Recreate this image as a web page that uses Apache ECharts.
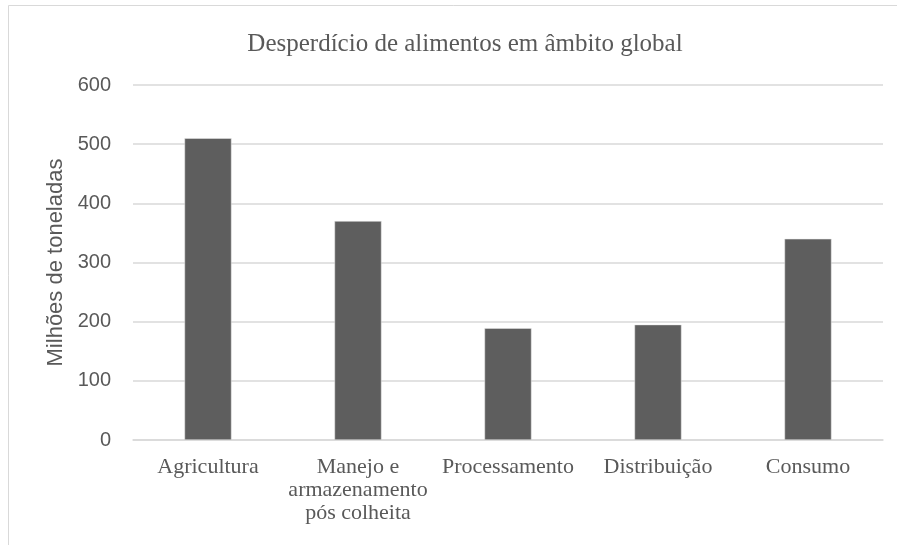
<!DOCTYPE html>
<html>
<head>
<meta charset="utf-8">
<script src="https://cdn.jsdelivr.net/npm/echarts@6/dist/echarts.min.js"></script>
<style>
  html, body { margin: 0; padding: 0; background: #fff; }
  #chart { width: 897px; height: 545px; }
</style>
</head>
<body>
<div id="chart"></div>
<script>
const categories = ['Agricultura', 'Manejo e\narmazenamento\npós colheita', 'Processamento', 'Distribuição', 'Consumo'];
const values = [510, 370, 189, 195, 340];
const yTicks = [0, 100, 200, 300, 400, 500, 600];

const chart = echarts.init(document.getElementById('chart'));

chart.setOption({
    backgroundColor: '#fff',
    animation: false,
    title: {
        text: 'Desperdício de alimentos em âmbito global',
        left: 460,
        textAlign: 'center',
        top: 27,
        textStyle: { fontFamily: 'Liberation Serif', fontSize: 25, fontWeight: 'normal', color: '#595959' }
    },
    graphic: [{
        type: 'rect',
        shape: { x: 8.5, y: 5.5, width: 900, height: 560 },
        style: { fill: 'none', stroke: '#d9d9d9', lineWidth: 1 },
        silent: true
    }],
    grid: { left: 133, right: 14, top: 85, bottom: 105 },
    xAxis: {
        type: 'category',
        data: categories,
        axisLine: { lineStyle: { color: '#d9d9d9', width: 1.5 } },
        axisTick: { show: false },
        axisLabel: {
            interval: 0,
            margin: 16,
            color: '#595959',
            fontFamily: 'Liberation Serif',
            fontSize: 22,
            lineHeight: 23
        }
    },
    yAxis: {
        type: 'value',
        min: yTicks[0],
        max: yTicks[yTicks.length - 1],
        interval: 100,
        name: 'Milhões de toneladas',
        nameLocation: 'middle',
        nameGap: 57,
        nameTextStyle: { fontFamily: 'Liberation Sans', fontSize: 22, color: '#595959' },
        axisLine: { show: false },
        axisTick: { show: false },
        splitLine: { lineStyle: { color: '#d9d9d9', width: 1.5 } },
        axisLabel: {
            margin: 22,
            color: '#595959',
            fontFamily: 'Liberation Sans',
            fontSize: 20
        }
    },
    series: [{
        type: 'bar',
        data: values,
        barWidth: 47,
        itemStyle: { color: '#5e5e5e', borderColor: '#e8e8e8', borderWidth: 0.5 }
    }]
});
</script>
</body>
</html>
